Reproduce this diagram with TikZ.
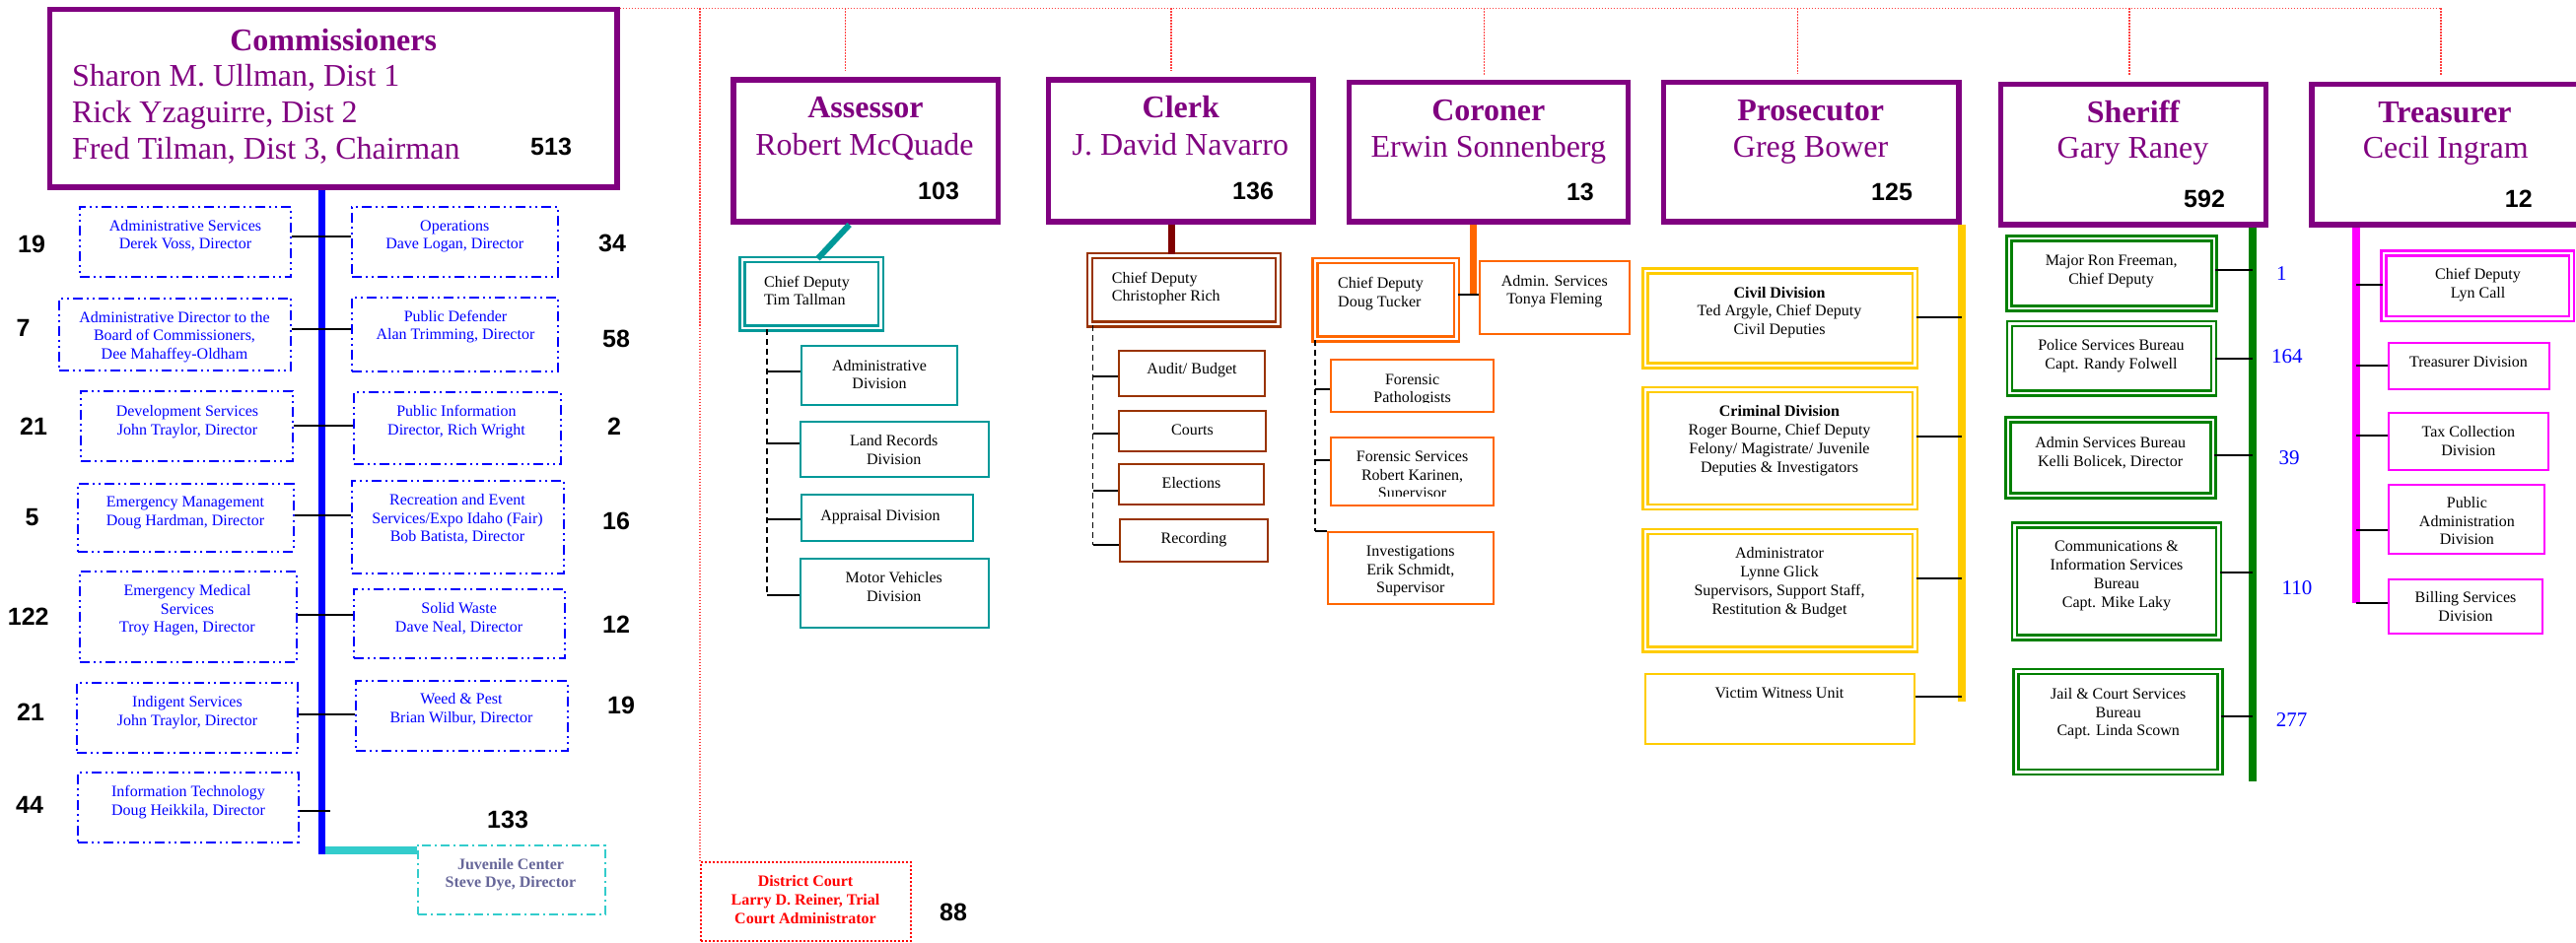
\documentclass[tikz,border=0pt]{standalone}
\usepackage{fontspec}
\setmainfont{Liberation Serif}
\newfontfamily\numfont{Liberation Sans}
\definecolor{ppl}{HTML}{800080}
\definecolor{bl}{HTML}{0000FF}
\definecolor{tl}{HTML}{009999}
\definecolor{cyn}{HTML}{33CCCC}
\definecolor{mrn}{HTML}{800000}
\definecolor{brn}{HTML}{993300}
\definecolor{orn}{HTML}{FF6600}
\definecolor{gld}{HTML}{FFCC00}
\definecolor{grn}{HTML}{008000}
\definecolor{mgn}{HTML}{FF00FF}
\definecolor{jtx}{HTML}{666699}
\definecolor{rdc}{HTML}{FF4040}
\newcommand\ocR{\rule{0pt}{0.8em}}
\newcommand\ocbox[7][1]{%
 \pgfmathsetmacro\ocW{#5-#3-2*#1}%
 \pgfmathsetmacro\ocH{#6-#4-2*#1}%
 \pgfmathsetmacro\ocX{(#3+#5)/2}%
 \pgfmathsetmacro\ocY{(#4+#6)/2}%
 \node[#2, minimum width=\ocW pt, minimum height=\ocH pt] (#7) at (\ocX,\ocY) {};}
\tikzset{
 pbox/.style={draw=ppl, line width=5.5pt, inner sep=0pt},
 bdd/.style={draw=bl, line width=2pt, dash pattern=on 10pt off 4pt on 2pt off 4pt on 2pt off 4pt, inner sep=0pt},
 cdd/.style={draw=cyn, line width=2pt, dash pattern=on 9pt off 4pt on 2pt off 4pt, inner sep=0pt},
 rdot/.style={draw=red, line width=2pt, dash pattern=on 2pt off 2pt, inner sep=0pt},
 tbox/.style={draw=#1, line width=2pt, inner sep=0pt},
 dbox/.style={draw=#1, double=white, line width=2.5pt, double distance=2.5pt, inner sep=0pt},
 conn/.style={draw=black, line width=2pt},
 dsh/.style={draw=black, line width=1.5pt, dash pattern=on 6pt off 4pt},
 rdl/.style={draw=rdc, line width=1.3pt, dash pattern=on 1.5pt off 1.5pt},
 sm/.style={font=\fontsize{16}{18.8}\selectfont, inner sep=0pt},
 ml/.style={sm, align=center, anchor=north},
 mll/.style={sm, align=left, anchor=north west},
 one/.style={sm, anchor=base},
 num/.style={font=\numfont\bfseries\fontsize{25}{25}\selectfont, inner sep=0pt, anchor=base west},
 bnum/.style={font=\fontsize{21}{21}\selectfont, text=bl, inner sep=0pt, anchor=base west},
 ttl/.style={font=\bfseries\fontsize{32}{37}\selectfont, text=ppl, inner sep=0pt, anchor=base},
 nm/.style={font=\fontsize{32}{37}\selectfont, text=ppl, inner sep=0pt, anchor=base},
}
\begin{document}
\begin{tikzpicture}[x=1pt,y=-1pt]
\clip (0,0) rectangle (2613,957);
\fill[white] (0,0) rectangle (2613,957);

% ---------------- Commissioners ----------------
\ocbox[2.75]{pbox}{47.8}{6.7}{628.6}{192.7}{comm}
\node[ttl] (commT) at (338.2,51.7) {Commissioners};
\node[nm, align=left, anchor=north west] (commN) at (72.8,61.4) {\ocR Sharon M. Ullman, Dist 1\\Rick Yzaguirre, Dist 2\\Fred Tilman, Dist 3, Chairman};
\node[num] (n513) at (538,158) {513};

\ocbox{bdd}{79.5}{209}{296.4}{282}{adm}
\ocbox{bdd}{356}{209}{566.5}{282}{ops}
\ocbox{bdd}{58.5}{302}{296}{377}{admdir}
\ocbox{bdd}{356}{301}{567}{378}{pubdef}
\ocbox{bdd}{81}{396}{298}{469}{dev}
\ocbox{bdd}{358}{397}{570}{472}{pubinfo}
\ocbox{bdd}{78.4}{490}{298.5}{560.7}{emgmt}
\ocbox{bdd}{356}{487}{573}{583}{rec}
\ocbox{bdd}{80}{579}{301.7}{673}{ems}
\ocbox{bdd}{358}{597}{574}{669}{solid}
\ocbox{bdd}{77}{692}{303}{765}{indig}
\ocbox{bdd}{360}{690}{576.5}{763}{weed}
\ocbox{bdd}{78.4}{783}{304}{855.7}{it}
\ocbox{cdd}{423}{856.7}{615}{929}{juv}
\ocbox{rdot}{710}{874}{925}{956}{dcourt}

\node[ml, text=bl] (admT) at (188,221.2) {\ocR Administrative Services\\Derek Voss, Director};
\node[ml, text=bl] (opsT) at (461.3,221.2) {\ocR Operations\\Dave Logan, Director};
\node[ml, text=bl] (admdirT) at (177,314.2) {\ocR Administrative Director to the\\Board of Commissioners,\\Dee Mahaffey-Oldham};
\node[ml, text=bl] (pubdefT) at (462,313.2) {\ocR Public Defender\\Alan Trimming, Director};
\node[ml, text=bl] (devT) at (190,409.2) {\ocR Development Services\\John Traylor, Director};
\node[ml, text=bl] (pubinfoT) at (463,409.2) {\ocR Public Information\\Director, Rich Wright};
\node[ml, text=bl] (emgmtT) at (188,501.2) {\ocR Emergency Management\\Doug Hardman, Director};
\node[ml, text=bl] (recT) at (464,499.2) {\ocR Recreation and Event\\Services/Expo Idaho (Fair)\\Bob Batista, Director};
\node[ml, text=bl] (emsT) at (190,591.2) {\ocR Emergency Medical\\Services\\Troy Hagen, Director};
\node[ml, text=bl] (solidT) at (465.6,609.2) {\ocR Solid Waste\\Dave Neal, Director};
\node[ml, text=bl] (indigT) at (190,704.9) {\ocR Indigent Services\\John Traylor, Director};
\node[ml, text=bl] (weedT) at (468,701.2) {\ocR Weed \& Pest\\Brian Wilbur, Director};
\node[ml, text=bl] (itT) at (191,795.2) {\ocR Information Technology\\Doug Heikkila, Director};
\node[ml, text=jtx, font=\bfseries\fontsize{16}{18}\selectfont] (juvT) at (518,869.9) {\ocR Juvenile Center\\Steve Dye, Director};
\node[ml, text=red, font=\bfseries\fontsize{16}{19}\selectfont] (dcourtT) at (817,886.2) {\ocR District Court\\Larry D. Reiner, Trial\\Court Administrator};

\node[num] (n19a) at (18,257) {19};
\node[num] (n34) at (607,256) {34};
\node[num] (n7) at (16.5,342) {7};
\node[num] (n58) at (611,353) {58};
\node[num] (n21a) at (20,442) {21};
\node[num] (n2) at (616,442) {2};
\node[num] (n5) at (25.5,533) {5};
\node[num] (n16) at (611,537) {16};
\node[num] (n122) at (7.7,634) {122};
\node[num] (n12a) at (611,642) {12};
\node[num] (n21b) at (17,731.7) {21};
\node[num] (n19b) at (616,724) {19};
\node[num] (n44) at (16,825) {44};
\node[num] (n133) at (494,840) {133};
\node[num] (n88) at (953,934) {88};

\coordinate (bsb) at (326.3,866.7);
\coordinate (cyb) at (326.3,863);
\draw[cyn, line width=8pt] (cyb) -- (juv.west |- cyb);
\draw[bl, line width=7.3pt] (comm.south -| bsb) -- (bsb);
\draw[conn] (adm.east |- 0,240) -- (ops.west |- 0,240);
\draw[conn] (admdir.east |- 0,334) -- (pubdef.west |- 0,334);
\draw[conn] (dev.east |- 0,432) -- (pubinfo.west |- 0,432);
\draw[conn] (emgmt.east |- 0,522.7) -- (rec.west |- 0,522.7);
\draw[conn] (ems.east |- 0,624) -- (solid.west |- 0,624);
\draw[conn] (indig.east |- 0,725) -- (weed.west |- 0,725);
\coordinate (itend) at (335,822.7);
\draw[conn] (it.east |- itend) -- (itend);

% ---------------- Assessor ----------------
\ocbox[2.75]{pbox}{741}{78.4}{1015}{228}{asr}
\node[ttl] (asrT) at (878,120) {Assessor};
\node[nm] (asrN) at (877,158) {Robert McQuade};
\node[num] (n103) at (931,203) {103};
\ocbox[3.75]{dbox=tl}{749}{260}{897}{337}{cd1}
\node[mll] (cd1T) at (775,278.2) {\ocR Chief Deputy\\Tim Tallman};
\draw[tl, line width=6pt] (asr.south -| 861.6,0) -- (cd1.north -| 829.5,0);
\ocbox{tbox=tl}{811.6}{350}{972}{412}{a1}
\ocbox{tbox=tl}{810.7}{427}{1003.6}{485}{a2}
\ocbox{tbox=tl}{811.6}{501}{988}{550}{a3}
\ocbox{tbox=tl}{810.7}{566}{1003.6}{637.6}{a4}
\node[ml] (a1T) at (892,363.2) {\ocR Administrative\\Division};
\node[ml] (a2T) at (906.7,439.2) {\ocR Land Records\\Division};
\node[one] (a3T) at (893,528) {Appraisal Division};
\node[ml] (a4T) at (906.7,578.2) {\ocR Motor Vehicles\\Division};
\coordinate (asx) at (778,604);
\draw[dsh] (cd1.south -| asx) -- (asx);
\draw[conn] (asx |- 0,377.5) -- (a1.west |- 0,377.5);
\draw[conn] (asx |- 0,450) -- (a2.west |- 0,450);
\draw[conn] (asx |- 0,526.5) -- (a3.west |- 0,526.5);
\draw[conn] (asx) -- (a4.west |- asx);

% ---------------- Clerk ----------------
\ocbox[2.75]{pbox}{1060.7}{78.4}{1334.8}{228}{clk}
\node[ttl] (clkT) at (1197.8,120) {Clerk};
\node[nm] (clkN) at (1197.3,158) {J. David Navarro};
\node[num] (n136) at (1250,203) {136};
\ocbox[3.75]{dbox=brn}{1101.8}{256}{1300.4}{332.6}{cd2}
\node[mll] (cd2T) at (1127.7,274.2) {\ocR Chief Deputy\\Christopher Rich};
\draw[mrn, line width=7pt] (clk.south -| 1188.5,0) -- (cd2.north -| 1188.5,0);
\ocbox{tbox=brn}{1134}{355}{1284}{403}{c1}
\ocbox{tbox=brn}{1134}{416}{1285}{459}{c2}
\ocbox{tbox=brn}{1134}{470}{1283}{512.6}{c3}
\ocbox{tbox=brn}{1135}{525.7}{1287}{571}{c4}
\node[one] (c1T) at (1209,380) {Audit/ Budget};
\node[one] (c2T) at (1209.5,442) {Courts};
\node[one] (c3T) at (1208.5,495.5) {Elections};
\node[one] (c4T) at (1211,551) {Recording};
\coordinate (clx) at (1108.5,553);
\draw[dsh] (cd2.south -| clx) -- (clx);
\draw[conn] (clx |- 0,381.6) -- (c1.west |- 0,381.6);
\draw[conn] (clx |- 0,440) -- (c2.west |- 0,440);
\draw[conn] (clx |- 0,497.5) -- (c3.west |- 0,497.5);
\draw[conn] (clx) -- (c4.west |- clx);

% ---------------- Coroner ----------------
\ocbox[2.75]{pbox}{1365.6}{80.8}{1654}{228}{cor}
\node[ttl] (corT) at (1509.8,122.4) {Coroner};
\node[nm] (corN) at (1509.8,160) {Erwin Sonnenberg};
\node[num] (n13) at (1588.8,204) {13};
\ocbox[3.75]{dbox=orn}{1330}{261}{1481}{348}{cd3}
\ocbox{tbox=orn}{1499.6}{264.5}{1653.6}{339.6}{adm3}
\node[mll] (cd3T) at (1357,279.9) {\ocR Chief Deputy\\Doug Tucker};
\node[ml] (adm3T) at (1576.8,277.2) {\ocR Admin. Services\\Tonya Fleming};
\coordinate (orb) at (1494.2,299);
\draw[orn, line width=7pt] (cor.south -| orb) -- (orb);
\draw[conn] (cd3.east |- orb) -- (adm3.west |- orb);
\ocbox{tbox=orn}{1349}{364.5}{1515.6}{419}{f1}
\ocbox{tbox=orn}{1349}{443}{1515.6}{514}{f2}
\ocbox{tbox=orn}{1346}{539}{1515.6}{613.5}{f3}
\begin{scope}
\clip (f1.north west) rectangle (f1.east |- 0,408.5);
\node[ml] (f1T) at (1432.6,377.2) {\ocR Forensic\\Pathologists};
\end{scope}
\begin{scope}
\clip (f2.north west) rectangle (f2.east |- 0,503);
\node[ml] (f2T) at (1432.6,455.2) {\ocR Forensic Services\\Robert Karinen,\\Supervisor};
\end{scope}
\node[ml] (f3T) at (1430.8,551.2) {\ocR Investigations\\Erik Schmidt,\\Supervisor};
\coordinate (cox) at (1334,539);
\draw[dsh] (cd3.south -| cox) -- (cox);
\draw[conn] (cox |- 0,394.7) -- (f1.west |- 0,394.7);
\draw[conn] (cox |- 0,466.5) -- (f2.west |- 0,466.5);
\draw[conn] (cox) -- (f3.north west);

% ---------------- Prosecutor ----------------
\ocbox[2.75]{pbox}{1684.8}{80.8}{1989.7}{228}{pro}
\node[ttl] (proT) at (1836.6,122.4) {Prosecutor};
\node[nm] (proN) at (1836.6,160) {Greg Bower};
\node[num] (n125) at (1898,204) {125};
\ocbox[3.75]{dbox=gld}{1665}{271.4}{1946}{374.7}{p1}
\ocbox[3.75]{dbox=gld}{1665}{392}{1946}{518}{p2}
\ocbox[3.75]{dbox=gld}{1665}{535.7}{1946}{662.7}{p3}
\ocbox{tbox=gld}{1668}{682.7}{1943}{755.7}{p4}
\node[ml] (p1T) at (1805,289.2) {\ocR\textbf{Civil Division}\\Ted Argyle, Chief Deputy\\Civil Deputies};
\node[ml] (p2T) at (1805,409.6) {\ocR\textbf{Criminal Division}\\Roger Bourne, Chief Deputy\\Felony/ Magistrate/ Juvenile\\Deputies \& Investigators};
\node[ml] (p3T) at (1805,553.9) {\ocR Administrator\\Lynne Glick\\Supervisors, Support Staff,\\Restitution \& Budget};
\node[one] (p4T) at (1805,708) {Victim Witness Unit};
\coordinate (gsb) at (1990,712);
\draw[gld, line width=8pt] (pro.south -| gsb) -- (gsb);
\draw[conn] (p1.east |- 0,322.4) -- (gsb |- 0,322.4);
\draw[conn] (p2.east |- 0,442.9) -- (gsb |- 0,442.9);
\draw[conn] (p3.east |- 0,586.7) -- (gsb |- 0,586.7);
\draw[conn] (p4.east |- 0,706.7) -- (gsb |- 0,706.7);

% ---------------- Sheriff ----------------
\ocbox[2.75]{pbox}{2026.7}{82.7}{2301}{230.7}{shf}
\node[ttl] (shfT) at (2164,125) {Sheriff};
\node[nm] (shfN) at (2163.5,160.7) {Gary Raney};
\node[num] (n592) at (2215,211) {592};
\ocbox[3.75]{dbox=grn}{2034.3}{238.5}{2249.5}{317}{s1}
\ocbox[3.75]{dbox=grn}{2034.6}{325}{2249}{403}{s2}
\ocbox[3.75]{dbox=grn}{2033}{422.4}{2248.5}{506.6}{s3}
\ocbox[3.75]{dbox=grn}{2039.6}{529}{2254.4}{650.5}{s4}
\ocbox[3.75]{dbox=grn}{2041}{677.6}{2255.7}{787}{s5}
\node[ml] (s1T) at (2141.6,256.4) {\ocR Major Ron Freeman,\\Chief Deputy};
\node[ml] (s2T) at (2141.5,342.8) {\ocR Police Services Bureau\\Capt. Randy Folwell};
\node[ml] (s3T) at (2140.7,441.2) {\ocR Admin Services Bureau\\Kelli Bolicek, Director};
\node[ml] (s4T) at (2147,546.9) {\ocR Communications \&\\Information Services\\Bureau\\Capt. Mike Laky};
\node[ml] (s5T) at (2148.7,696.2) {\ocR Jail \& Court Services\\Bureau\\Capt. Linda Scown};
\coordinate (grb) at (2285,793);
\draw[grn, line width=7.5pt] (shf.south -| grb) -- (grb);
\draw[conn] (s1.east |- 0,274.5) -- (grb |- 0,274.5);
\draw[conn] (s2.east |- 0,364.3) -- (grb |- 0,364.3);
\draw[conn] (s3.east |- 0,461.7) -- (grb |- 0,461.7);
\draw[conn] (s4.east |- 0,580.6) -- (grb |- 0,580.6);
\draw[conn] (s5.east |- 0,727) -- (grb |- 0,727);
\node[bnum] (b1) at (2309,284.7) {1};
\node[bnum] (b164) at (2304,368.4) {164};
\node[bnum] (b39) at (2311.5,471) {39};
\node[bnum] (b110) at (2314.5,603) {110};
\node[bnum] (b277) at (2308.6,737) {277};

% ---------------- Treasurer ----------------
\ocbox[2.75]{pbox}{2342.3}{82.7}{2660}{230.7}{trs}
\node[ttl] (trsT) at (2480,125) {Treasurer};
\node[nm] (trsN) at (2480.7,160.7) {Cecil Ingram};
\node[num] (n12b) at (2540.7,211) {12};
\ocbox[3.75]{dbox=mgn}{2414.3}{253.3}{2612}{327.3}{t1}
\ocbox{tbox=mgn}{2421.5}{347}{2587}{396.4}{t2}
\ocbox{tbox=mgn}{2421.5}{418}{2586}{478}{t3}
\ocbox{tbox=mgn}{2421.5}{490.8}{2582}{562.8}{t4}
\ocbox{tbox=mgn}{2421.5}{586.7}{2580}{644.4}{t5}
\node[ml] (t1T) at (2513.5,270.7) {\ocR Chief Deputy\\Lyn Call};
\node[one] (t2T) at (2504,372.4) {Treasurer Division};
\node[ml] (t3T) at (2503.9,430.2) {\ocR Tax Collection\\Division};
\node[ml] (t4T) at (2502.4,502.2) {\ocR Public\\Administration\\Division};
\node[ml] (t5T) at (2501,598.2) {\ocR Billing Services\\Division};
\coordinate (mgb) at (2390,612);
\draw[mgn, line width=8pt] (trs.south -| mgb) -- (mgb);
\draw[conn] (mgb |- 0,289) -- (t1.west |- 0,289);
\draw[conn] (mgb |- 0,371) -- (t2.west |- 0,371);
\draw[conn] (mgb |- 0,442) -- (t3.west |- 0,442);
\draw[conn] (mgb |- 0,538) -- (t4.west |- 0,538);
\draw[conn] (mgb) -- (t5.west |- mgb);

% ---------------- red dotted bus ----------------
\coordinate (busR) at (2476,8.5);
\draw[rdl] (comm.north east |- busR) -- (busR);
\draw[rdl] (busR -| dcourt.north west) -- (dcourt.north west);
\draw[rdl, shorten >=6pt] (busR -| 857.6,0) -- (asr.north -| 857.6,0);
\draw[rdl, shorten >=6pt] (busR -| 1188,0) -- (clk.north -| 1188,0);
\draw[rdl, shorten >=4pt] (busR -| 1505.8,0) -- (cor.north -| 1505.8,0);
\draw[rdl, shorten >=6pt] (busR -| 1823.7,0) -- (pro.north -| 1823.7,0);
\draw[rdl, shorten >=6pt] (busR -| 2160,0) -- (shf.north -| 2160,0);
\draw[rdl, shorten >=6pt] (busR) -- (trs.north -| busR);
\end{tikzpicture}
\end{document}
